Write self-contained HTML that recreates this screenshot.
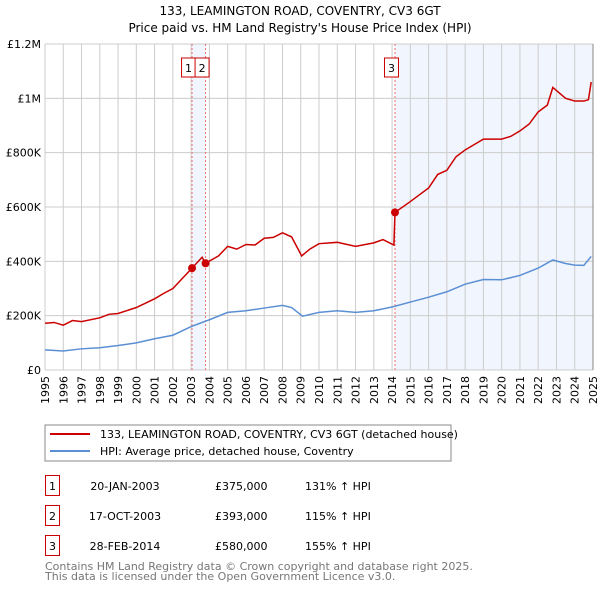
<!DOCTYPE html>
<html><head><meta charset="utf-8"><style>
body{margin:0;background:#fff;font-family:"DejaVu Sans","Liberation Sans",sans-serif;}
svg text{font-family:"DejaVu Sans","Liberation Sans",sans-serif;}
</style></head><body>
<svg id="chart" width="600" height="590" xmlns="http://www.w3.org/2000/svg">
<text x="300" y="15" text-anchor="middle" font-size="12">133, LEAMINGTON ROAD, COVENTRY, CV3 6GT</text>
<text x="300" y="32" text-anchor="middle" font-size="12">Price paid vs. HM Land Registry's House Price Index (HPI)</text>
<g id="plot"></g>
<g>
<rect x="45" y="425" width="406" height="36" fill="#fff" stroke="#888"/>
<line x1="50" y1="434" x2="90" y2="434" stroke="#cc0000" stroke-width="2"/>
<text x="100" y="438" font-size="11">133, LEAMINGTON ROAD, COVENTRY, CV3 6GT (detached house)</text>
<line x1="50" y1="451" x2="90" y2="451" stroke="#5b8fd4" stroke-width="2"/>
<text x="100" y="455" font-size="11">HPI: Average price, detached house, Coventry</text>
</g>
<g font-size="11">
<rect x="45.5" y="475.5" width="14" height="20" fill="#fff" stroke="#cc0000"/><text x="52.5" y="490" text-anchor="middle">1</text>
<text x="125" y="490" text-anchor="middle">20-JAN-2003</text><text x="215" y="490">£375,000</text><text x="305" y="490">131% ↑ HPI</text>
<rect x="45.5" y="505.5" width="14" height="20" fill="#fff" stroke="#cc0000"/><text x="52.5" y="520" text-anchor="middle">2</text>
<text x="125" y="520" text-anchor="middle">17-OCT-2003</text><text x="215" y="520">£393,000</text><text x="305" y="520">115% ↑ HPI</text>
<rect x="45.5" y="535.5" width="14" height="20" fill="#fff" stroke="#cc0000"/><text x="52.5" y="550" text-anchor="middle">3</text>
<text x="125" y="550" text-anchor="middle">28-FEB-2014</text><text x="215" y="550">£580,000</text><text x="305" y="550">155% ↑ HPI</text>
</g>
<text x="45" y="570" font-size="11" fill="#777">Contains HM Land Registry data © Crown copyright and database right 2025.</text>
<text x="45" y="580" font-size="11" fill="#777">This data is licensed under the Open Government Licence v3.0.</text>
</svg>
<script>
const yTicks=[0,200000,400000,600000,800000,1000000,1200000];
const yTickLabels=["£0","£200K","£400K","£600K","£800K","£1M","£1.2M"];
const xYears=[1995,1996,1997,1998,1999,2000,2001,2002,2003,2004,2005,2006,2007,2008,2009,2010,2011,2012,2013,2014,2015,2016,2017,2018,2019,2020,2021,2022,2023,2024,2025];
const hpiDates=[1995,1996,1997,1998,1999,2000,2001,2002,2003,2004,2005,2006,2007,2008,2008.5,2009.1,2010,2011,2012,2013,2014,2015,2016,2017,2018,2019,2020,2021,2022,2022.8,2023.5,2024,2024.5,2024.9];
const hpiValues=[74000,70000,78000,82000,90000,100000,115000,128000,160000,185000,212000,218000,228000,238000,230000,198000,212000,218000,212000,218000,232000,250000,268000,288000,316000,333000,332000,348000,375000,405000,392000,386000,385000,418000];
const priceDates=[1995,1995.5,1996,1996.5,1997,1998,1998.5,1999,2000,2001,2001.5,2002,2003.05,2003.6,2003.79,2004.5,2005,2005.5,2006,2006.5,2007,2007.5,2008,2008.5,2009.05,2009.5,2010,2011,2012,2013,2013.5,2014.1,2014.16,2015,2016,2016.5,2017,2017.5,2018,2019,2020,2020.5,2021,2021.5,2022,2022.5,2022.8,2023.5,2024,2024.5,2024.75,2024.9];
const priceValues=[172000,175000,165000,182000,178000,192000,205000,208000,230000,262000,282000,300000,375000,415000,393000,420000,455000,445000,462000,460000,485000,488000,505000,490000,420000,445000,465000,470000,455000,468000,480000,460000,580000,620000,670000,720000,735000,785000,810000,850000,850000,860000,880000,905000,950000,975000,1040000,1000000,990000,990000,995000,1060000];
const saleLabels=["1","2","3"];
const saleDates=[2003.05,2003.79,2014.16];
const salePrices=[375000,393000,580000];

const X0=45,X1=593,Y0=370,Y1=44;
const xs=t=>X0+(t-1995)/30*(X1-X0);
const ys=v=>Y0-v/1200000*(Y0-Y1);
const NS="http://www.w3.org/2000/svg";
const plot=document.getElementById('plot');
function mk(tag,attrs,parent){const e=document.createElementNS(NS,tag);for(const k in attrs)e.setAttribute(k,attrs[k]);(parent||plot).appendChild(e);return e;}
let r=mk('rect',{x:xs(saleDates[0]),y:Y1,width:xs(saleDates[1])-xs(saleDates[0]),height:Y0-Y1,fill:'#eef3fc',opacity:0.8});


r=mk('rect',{x:xs(saleDates[2]),y:Y1,width:X1-xs(saleDates[2]),height:Y0-Y1,fill:'#eef3fc',opacity:0.8});


xYears.forEach(y=>{const l=mk('line',{x1:xs(y),x2:xs(y),y1:Y1,y2:Y0,stroke:'#ccc','stroke-width':1});


const t=mk('text',{x:0,y:0,'font-size':11,'text-anchor':'end',transform:`translate(${xs(y)+4},${Y0+6}) rotate(-90)`});t.textContent=y;

});
yTicks.forEach((v,i)=>{const l=mk('line',{x1:X0,x2:X1,y1:ys(v),y2:ys(v),stroke:'#ccc','stroke-width':1});


const t=mk('text',{x:X0-4,y:ys(v)+4,'font-size':11,'text-anchor':'end'});t.textContent=yTickLabels[i];

});
saleDates.forEach((d,i)=>{const l=mk('line',{x1:xs(d),x2:xs(d),y1:Y1,y2:Y0,stroke:'#f07070','stroke-width':1,'stroke-dasharray':'2,2'});


const bx=xs(d)-10.5;
const b=mk('rect',{x:bx,y:58,width:14,height:19,fill:'#fff',stroke:'#cc0000'});


const t=mk('text',{x:bx+7,y:72,'font-size':11,'text-anchor':'middle'});t.textContent=saleLabels[i];

});
const hp=mk('polyline',{points:hpiDates.map((d,i)=>xs(d)+','+ys(hpiValues[i])).join(' '),fill:'none',stroke:'#5b8fd4','stroke-width':1.5});


const pp=mk('polyline',{points:priceDates.map((d,i)=>xs(d)+','+ys(priceValues[i])).join(' '),fill:'none',stroke:'#cc0000','stroke-width':1.5});


saleDates.forEach((d,i)=>{const c=mk('circle',{cx:xs(d),cy:ys(salePrices[i]),r:4,fill:'#cc0000'});

});
const ax=mk('line',{x1:X1,x2:X1,y1:Y1,y2:Y0,stroke:'#888','stroke-width':1});


</script>
</body></html>
